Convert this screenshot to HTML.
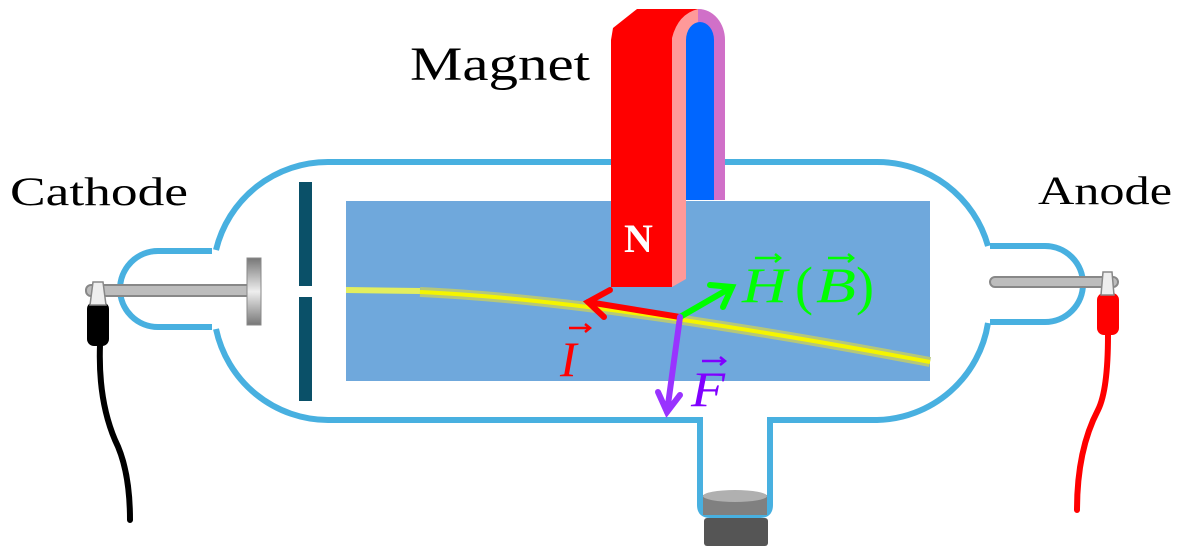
<!DOCTYPE html>
<html><head><meta charset="utf-8"><style>
html,body{margin:0;padding:0;background:#fff}
svg{display:block}
text{font-family:"Liberation Serif",serif}
</style></head><body>
<svg width="1185" height="560" viewBox="0 0 1185 560" xmlns="http://www.w3.org/2000/svg">
<defs>
<linearGradient id="disk" x1="0" y1="0" x2="0" y2="1">
<stop offset="0" stop-color="#777"/><stop offset="0.5" stop-color="#eee"/><stop offset="1" stop-color="#777"/>
</linearGradient>
</defs>
<g fill="none" stroke="#48b0e0" stroke-width="6">
<path d="M216,250 A115,115 0 0 1 328,162 L877,162 A115,115 0 0 1 988,246"/>
<path d="M216,329 A115,115 0 0 0 328,420 L700,420 L700,505 Q700,515 710,515 L760,515 Q770,515 770,505 L770,420 L877,420 A115,115 0 0 0 988,323"/>
<path d="M212,251 L158,251 A38,38 0 0 0 158,327 L212,327"/>
<path d="M990,246 L1045,246 A38,38 0 0 1 1045,322 L990,322"/>
</g>
<rect x="346" y="201" width="584" height="180" fill="#6fa8dc"/>
<rect x="299" y="182" width="13" height="104" fill="#0a5068"/>
<rect x="299" y="297" width="13" height="104" fill="#0a5068"/>
<rect x="86" y="285" width="166" height="11" rx="5" fill="#bdbdbd" stroke="#888" stroke-width="2"/>
<rect x="247" y="258" width="14" height="67" fill="url(#disk)" stroke="#888" stroke-width="1"/>
<path d="M100,345 Q98,400 115,440 Q130,470 130,520" fill="none" stroke="#000" stroke-width="6" stroke-linecap="round"/>
<rect x="87" y="302" width="22" height="44" rx="7" fill="#000"/>
<path d="M93,282 L103,282 L106,305 L90,305 Z" fill="#eee" stroke="#888" stroke-width="1.5"/>
<rect x="990" y="277" width="128" height="10" rx="5" fill="#bdbdbd" stroke="#888" stroke-width="2"/>
<path d="M1108,335 Q1108,390 1098,410 Q1077,450 1077,510" fill="none" stroke="#f00" stroke-width="6" stroke-linecap="round"/>
<rect x="1097" y="293" width="22" height="42" rx="7" fill="#f00"/>
<path d="M1103,272 L1112,272 L1114,295 L1101,295 Z" fill="#eee" stroke="#888" stroke-width="1.5"/>
<rect x="704" y="518" width="64" height="28" rx="3" fill="#555"/>
<rect x="703" y="495" width="64" height="20" fill="#808080"/>
<ellipse cx="735" cy="496" rx="32" ry="6" fill="#b0b0b0"/>
<path d="M346,290 L420,291" stroke="#ffff40" stroke-width="6" fill="none" opacity="0.8"/>
<path d="M420,292 Q600,300 930,362" stroke="#b5c77a" stroke-width="10" fill="none"/>
<path d="M420,292 Q600,300 930,362" stroke="#f5f500" stroke-width="4" fill="none"/>
<!-- magnet -->
<path d="M672,200 L672,40 A26.5,31 0 0 1 725,40 L725,200 Z" fill="#d070c8"/>
<path d="M672,200 L672,40 A26.5,31 0 0 1 698,9 L698,200 Z" fill="#ff9999"/>
<path d="M686,200 L686,40 A14,18 0 0 1 714,40 L714,200 Z" fill="#0066ff"/>
<path d="M672,287 L686,279 L686,200 L672,200 Z" fill="#ff9999"/>
<path d="M611,287 L611,40 L613,28 L637,9 L698,9 Q678,14 672,38 L672,287 Z" fill="#f00"/>
<text x="624" y="252" font-size="40" font-weight="bold" fill="#fff">N</text>
<g stroke-width="6" stroke-linecap="round" fill="none">
<path d="M680,317 L588,302" stroke="#f00"/>
<path d="M610,290 L588,302 L604,317" stroke="#f00"/>
<path d="M680,317 L732,287" stroke="#0f0"/>
<path d="M710,285 L732,287 L723,307" stroke="#0f0"/>
<path d="M680,317 L667,412" stroke="#9933ff"/>
<path d="M658,392 L667,412 L680,395" stroke="#9933ff"/>
</g>
<g font-style="italic" font-size="50">
<text x="560" y="376" fill="#f00">I</text>
<text x="742" y="302" fill="#0f0" textLength="45" lengthAdjust="spacingAndGlyphs">H</text>
<text x="795" y="304" fill="#0f0" font-style="normal" font-size="54">(</text>
<text x="816" y="302" fill="#0f0" textLength="40" lengthAdjust="spacingAndGlyphs">B</text>
<text x="856" y="304" fill="#0f0" font-style="normal" font-size="54">)</text>
<text x="691" y="406" fill="#8000ff" textLength="34" lengthAdjust="spacingAndGlyphs">F</text>
</g>
<g fill="none" stroke-width="2.5">
<path d="M569,328 L590,328 M585,324 L590,328 L585,332" stroke="#f00"/>
<path d="M755,258 L780,258 M775,254 L780,258 L775,262" stroke="#0f0"/>
<path d="M828,258 L853,258 M848,254 L853,258 L848,262" stroke="#0f0"/>
<path d="M702,361 L725,361 M720,357 L725,361 L720,365" stroke="#8000ff"/>
</g>
<text x="410" y="80" font-size="48" textLength="180" lengthAdjust="spacingAndGlyphs">Magnet</text>
<text x="10" y="205" font-size="40" textLength="178" lengthAdjust="spacingAndGlyphs">Cathode</text>
<text x="1038" y="204" font-size="40" textLength="134" lengthAdjust="spacingAndGlyphs">Anode</text>
</svg>
</body></html>
